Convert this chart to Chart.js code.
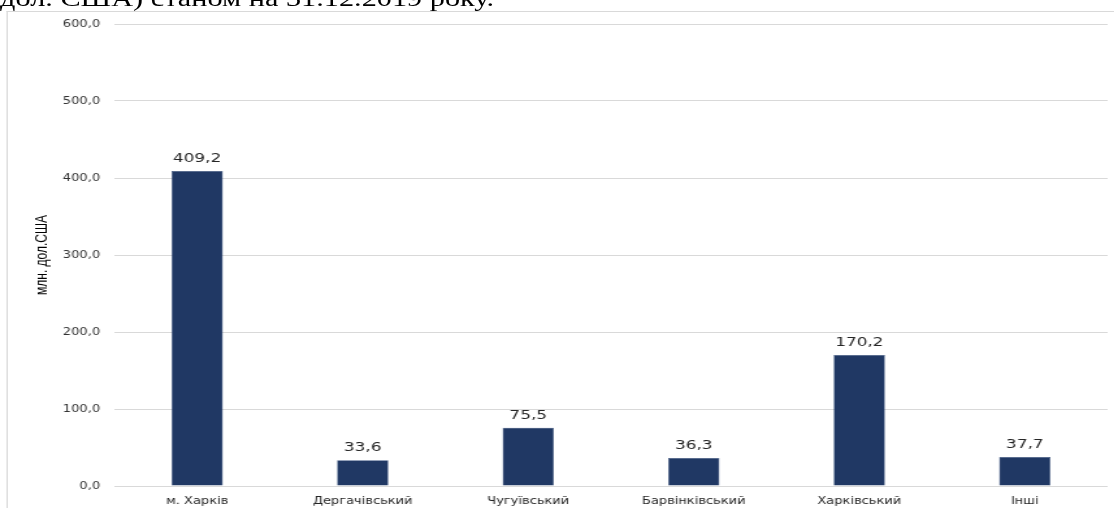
<!DOCTYPE html>
<html>
<head>
<meta charset="utf-8">
<script src="https://cdn.jsdelivr.net/npm/chart.js@4"></script>
<style>
  body { margin: 0; background: #fff; overflow: hidden; }
  /* оригінал розтягнутий по горизонталі, тому малюємо вужче і розтягуємо */
  #stretch { position: absolute; left: 0; top: 0; width: 857px; height: 508px;
             transform: scaleX(1.3); transform-origin: 0 0; }
  #frame { position: absolute; left: 5.4px; top: 11px; width: 860px; height: 520px;
           border-left: 1px solid #d9d9d9; border-top: 1px solid #d9d9d9; }
  #caption { position: absolute; left: 0; top: -15px; white-space: nowrap;
             font-family: "Liberation Serif", "Times New Roman", serif; font-size: 23.3px; color: #000; }
  #wrap { position: absolute; left: 0; top: 0; width: 857px; height: 508px; }
</style>
</head>
<body>
<div id="stretch">
  <div id="caption">дол. США) станом на 31.12.2019 року.</div>
  <div id="frame"></div>
  <div id="wrap"><canvas id="chart" width="857" height="508"></canvas></div>
</div>
<script>
// дані з діаграми
const categories = ["м. Харків", "Дергачівський", "Чугуївський", "Барвінківський", "Харківський", "Інші"];
const values = [409.2, 33.6, 75.5, 36.3, 170.2, 37.7];
const yTicks = [0, 100, 200, 300, 400, 500, 600];
const yTitle = "млн. дол.США";

const fmt = (v) => v.toFixed(1).replace(".", ",");

// підписи значень над стовпчиками
const valueLabels = {
  id: "valueLabels",
  afterDatasetsDraw(chart) {
    const ctx = chart.ctx;
    const meta = chart.getDatasetMeta(0);
    ctx.save();
    ctx.font = "13px 'DejaVu Sans'";
    ctx.fillStyle = "#262626";
    ctx.textAlign = "center";
    ctx.textBaseline = "alphabetic";
    meta.data.forEach((bar, i) => {
      ctx.fillText(fmt(values[i]), bar.x, bar.y - 9);
    });
    ctx.restore();
  },
};

new Chart(document.getElementById("chart"), {
  type: "bar",
  data: {
    labels: categories,
    datasets: [
      {
        data: values,
        backgroundColor: "#203864",
        borderColor: "#2f4a7a",
        borderWidth: 0.5,
        barPercentage: 0.31,
        categoryPercentage: 1,
      },
    ],
  },
  options: {
    responsive: false,
    animation: false,
    devicePixelRatio: 1,
    layout: { padding: { left: 6, right: 5, top: 24, bottom: 0 } },
    plugins: { legend: { display: false }, tooltip: { enabled: false } },
    scales: {
      x: {
        grid: { display: false, drawTicks: false },
        border: { display: false },
        ticks: { font: { family: "DejaVu Sans", size: 10 }, color: "#262626", padding: 9, maxRotation: 0 },
        afterFit: (s) => { s.height = 22; },
      },
      y: {
        min: 0,
        max: 600,
        afterBuildTicks: (s) => { s.ticks = yTicks.map((v) => ({ value: v })); },
        grid: { color: "#d9d9d9", lineWidth: 1, drawTicks: false },
        border: { display: false },
        ticks: {
          font: { family: "DejaVu Sans", size: 10 },
          color: "#333333",
          padding: 11,
          callback: (v) => fmt(v),
        },
        title: {
          display: true,
          text: yTitle,
          font: { family: "Liberation Sans Narrow, Arial Narrow, sans-serif", size: 12 },
          color: "#000",
          padding: { top: 19, bottom: 0 },
        },
        afterFit: (s) => { s.width = 82; },
      },
    },
  },
  plugins: [valueLabels],
});
</script>
</body>
</html>
